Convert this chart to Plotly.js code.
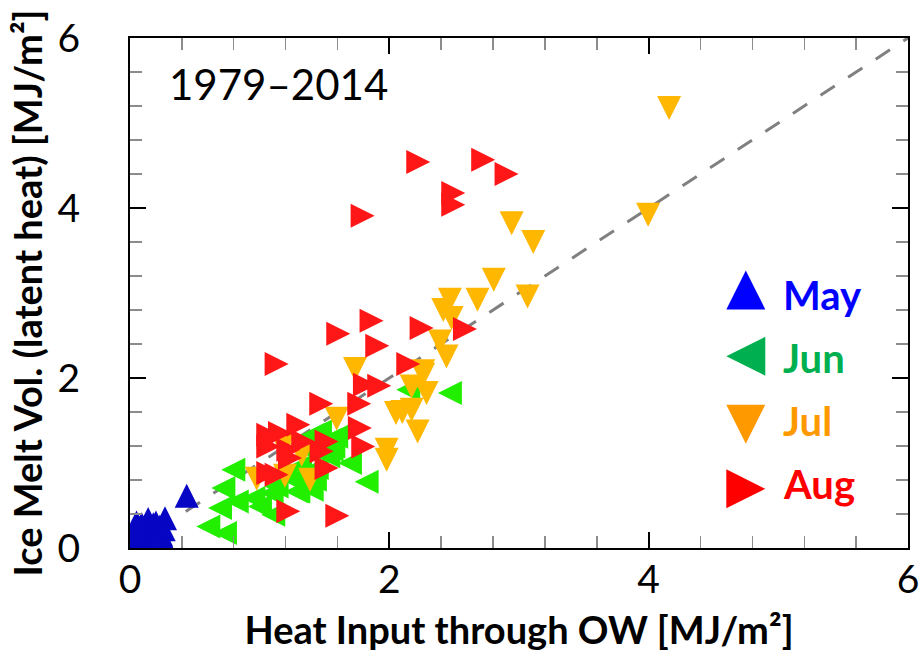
<!DOCTYPE html>
<html>
<head>
<meta charset="utf-8">
<script src="https://cdn.plot.ly/plotly-3.0.1.min.js"></script>
<style>
  html, body { margin: 0; padding: 0; background: #fff; }
  #chart { width: 924px; height: 656px; }
</style>
</head>
<body>
<div id="chart"></div>
<script>
// Monthly ice melt volume vs. heat input through open water, 1979–2014
const months = ['May', 'Jun', 'Jul', 'Aug'];

const mayX = [0.437, 0.14, 0.27, 0.26, 0.08, 0.255, 0.21, 0.18, 0.12, 0.05, 0.23, 0.03, 0.10, 0.20, 0.16,
              0.06, 0.24, 0.13, 0.19, 0.09, 0.02, 0.15, 0.22, 0.11, 0.04, 0.17, 0.07, 0.14, 0.01, 0.12,
              0.18, 0.23, 0.09, 0.05, 0.16, 0.20];
const mayY = [0.615, 0.34, 0.35, 0.22, 0.25, 0.10, 0.22, 0.15, 0.08, 0.05, 0.05, 0.15, 0.18, 0.30, 0.25,
              0.10, 0.16, 0.02, 0.08, 0.28, 0.04, 0.05, 0.13, 0.12, 0.20, 0.19, 0.02, 0.20, 0.10, 0.27,
              0.28, 0.25, 0.13, 0.30, 0.12, 0.10];

const junX = [2.467, 2.146, 1.825, 1.696, 1.555, 1.542, 1.465, 1.59, 1.401, 1.298, 1.105, 0.797, 0.72, 0.694,
              0.604, 0.732, 0.823, 0.951, 1.002, 1.092, 1.131, 1.285, 1.259, 1.426, 1.311, 1.529, 1.568,
              1.411, 1.44, 1.38, 1.2];
const junY = [1.824, 1.862, 0.78, 1.0, 1.157, 1.274, 1.372, 1.31, 0.686, 0.666, 0.392, 0.921, 0.706, 0.471,
              0.254, 0.176, 0.548, 0.588, 0.489, 0.647, 0.725, 0.666, 0.804, 0.804, 0.96, 1.078, 1.195,
              1.333, 0.94, 1.15, 0.86];

const julX = [4.158, 3.996, 2.943, 3.11, 2.805, 3.066, 2.68, 2.467, 2.416, 2.48, 2.39, 2.441, 2.261, 1.735,
              2.261, 2.172, 2.287, 1.594, 2.051, 2.172, 2.1, 2.218, 1.979, 1.979, 1.324, 1.195, 1.388,
              0.977, 1.18];
const julY = [5.176, 3.921, 3.82, 3.6, 3.156, 2.96, 2.921, 2.921, 2.80, 2.706, 2.43, 2.254, 2.078, 2.106,
              2.039, 1.901, 1.824, 1.52, 1.588, 1.627, 1.6, 1.372, 1.157, 1.039, 1.098, 0.85, 0.804,
              0.815, 1.2];

const augX = [2.223, 2.724, 2.904, 2.493, 2.493, 1.794, 1.606, 1.863, 2.249, 2.583, 1.907, 1.131, 2.146,
              1.812, 1.922, 1.475, 1.768, 1.298, 1.773, 1.066, 1.157, 1.516, 1.799, 1.336, 1.066, 1.221,
              1.478, 1.234, 1.066, 1.131, 1.516, 1.221, 1.599];
const augY = [4.541, 4.568, 4.40, 4.176, 4.039, 3.909, 2.521, 2.674, 2.588, 2.576, 2.38, 2.165, 2.165,
              1.921, 1.909, 1.698, 1.698, 1.451, 1.412, 1.333, 1.353, 1.254, 1.195, 1.254, 1.195, 1.157,
              1.137, 1.059, 0.882, 0.862, 0.941, 0.431, 0.38];

// 1:1 reference line
const refX = [0.43, 6];
const refY = [0.43, 6];

const periodLabel = '1979–2014';
const xTitle = 'Heat Input through OW [MJ/m²]';
const yTitle = 'Ice Melt Vol. (latent heat) [MJ/m²]';
const xTicks = [0, 2, 4, 6];
const yTicks = [0, 2, 4, 6];

// ---- styling ----
const pointColors = ['#0606c4', '#22ee00', '#ffb700', '#ff1616'];
const keyColors   = ['#0000ff', '#00b050', '#ff9900', '#ff0000'];
// centred triangle: arrow-down shifted by half its size, then rotated
const pointAngles = [180, 90, 0, -90];
const MS = 24;
const KS = 39;
const FONT = 'Lato, "Open Sans", sans-serif';

function triTrace(xs, ys, i) {
  return {
    type: 'scatter', mode: 'markers', x: xs, y: ys,
    name: months[i], showlegend: false, hoverinfo: 'skip',
    marker: { symbol: 'arrow-down', angle: pointAngles[i], standoff: MS / 2,
              size: MS, color: pointColors[i], line: { width: 0 } }
  };
}

// key placement in plot-area fractions
const keyX = 0.7915;
const keyY = [0.506, 0.376, 0.2426, 0.116];
const keyTextX = 0.837;
const keyTextY = [0.4954, 0.372, 0.2495, 0.126];

const traces = [
  { type: 'scatter', mode: 'lines', x: refX, y: refY, showlegend: false, hoverinfo: 'skip',
    line: { color: '#808080', width: 3, dash: '17px,16px' } },
  triTrace(mayX, mayY, 0),
  triTrace(junX, junY, 1),
  triTrace(julX, julY, 2),
  triTrace(augX, augY, 3)
];

months.forEach((m, i) => {
  traces.push({
    type: 'scatter', mode: 'markers', x: [keyX], y: [keyY[i]], xaxis: 'x2', yaxis: 'y2',
    showlegend: false, hoverinfo: 'skip', cliponaxis: false,
    marker: { symbol: 'arrow-down', angle: pointAngles[i], standoff: KS / 2,
              size: KS, color: keyColors[i], line: { width: 0 } }
  });
});

const annotations = months.map((m, i) => ({
  xref: 'paper', yref: 'paper', x: keyTextX, y: keyTextY[i], xanchor: 'left', yanchor: 'middle',
  text: m, showarrow: false,
  font: { family: FONT, size: 40, weight: 700, color: keyColors[i] }
}));
annotations.push({
  xref: 'paper', yref: 'paper', x: 0.047, y: 0.91, xanchor: 'left', yanchor: 'middle',
  text: periodLabel, showarrow: false,
  font: { family: FONT, size: 42, color: '#000' }
});

const axisCommon = {
  range: [0, 6], tickmode: 'array', showgrid: false, zeroline: false,
  ticks: 'inside', ticklen: 16, tickwidth: 2, tickcolor: '#000',
  showline: true, linewidth: 2, linecolor: '#000', mirror: 'ticks',
  tickfont: { family: FONT, size: 39, color: '#000' },
  minor: { tickmode: 'linear', tick0: 0, dtick: 0.4, ticks: 'inside', ticklen: 12,
           tickwidth: 1.5, tickcolor: '#8c8c8c', showgrid: false }
};

const layout = {
  width: 924, height: 656,
  margin: { l: 130, r: 16, t: 38, b: 108 },
  paper_bgcolor: '#fff', plot_bgcolor: '#fff',
  showlegend: false,
  xaxis: Object.assign({}, axisCommon, {
    tickvals: xTicks, ticktext: xTicks.map(String), ticklabelstandoff: -4,
    title: { text: xTitle, standoff: 18, font: { family: FONT, size: 38, weight: 700, color: '#000' } }
  }),
  yaxis: Object.assign({}, axisCommon, {
    tickvals: yTicks, ticktext: yTicks.map(String), ticklabelstandoff: 40,
    title: { text: yTitle, standoff: 3, font: { family: FONT, size: 38, weight: 700, color: '#000' } }
  }),
  xaxis2: { overlaying: 'x', anchor: 'y2', range: [0, 1], visible: false, fixedrange: true },
  yaxis2: { overlaying: 'y', anchor: 'x2', range: [0, 1], visible: false, fixedrange: true },
  annotations: annotations
};

Plotly.newPlot('chart', traces, layout, { displayModeBar: false, staticPlot: true });
</script>
</body>
</html>
